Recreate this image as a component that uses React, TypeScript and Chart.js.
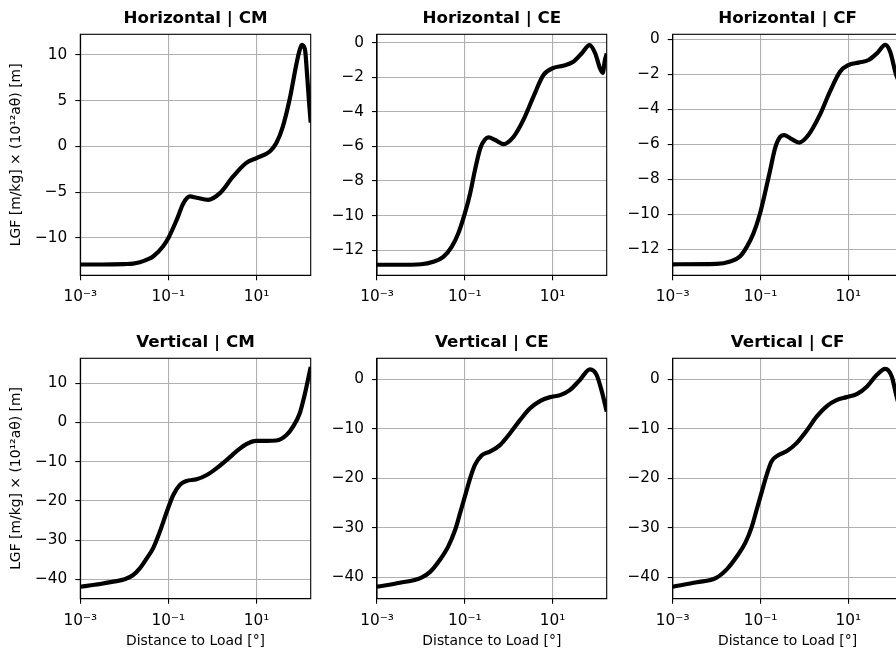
import React, { useEffect, useRef } from 'react';
import { Chart, registerables } from 'chart.js';

Chart.register(...registerables);

// ---------------- data ----------------
const hcmX = [0.001, 0.00316, 0.01, 0.0158, 0.0224, 0.0316, 0.0457, 0.0759, 0.1, 0.155, 0.219, 0.309, 0.437, 0.794, 1.48, 2.95, 5.89, 10, 20, 28.2, 39.8, 56.2, 81.3, 95, 107, 126, 140, 155, 170];
const hcmY = [-12.9, -12.9, -12.85, -12.8, -12.65, -12.4, -12.0, -10.9, -10.0, -8.0, -6.2, -5.46, -5.6, -5.83, -5.1, -3.28, -1.8, -1.27, -0.55, 0.37, 2.2, 5.1, 9.1, 10.5, 11.1, 10.6, 8.0, 5.0, 2.6];

const hceX = [0.001, 0.00316, 0.01, 0.0191, 0.0324, 0.0501, 0.0708, 0.1, 0.132, 0.17, 0.224, 0.288, 0.347, 0.49, 0.759, 1.29, 2.14, 3.63, 6.17, 10.5, 17.4, 29.5, 45.7, 69.2, 93.3, 120, 138, 155, 170];
const hceY = [-12.85, -12.85, -12.82, -12.68, -12.39, -11.81, -11.04, -9.88, -8.72, -7.37, -6.12, -5.6, -5.48, -5.63, -5.87, -5.44, -4.48, -3.13, -1.87, -1.45, -1.33, -1.1, -0.62, -0.14, -0.62, -1.49, -1.74, -1.0, -0.62];

const hcfX = [0.001, 0.01, 0.0204, 0.0339, 0.049, 0.0692, 0.0977, 0.126, 0.166, 0.214, 0.275, 0.347, 0.513, 0.759, 1.23, 2.24, 3.8, 6.46, 10, 17, 28.8, 44.7, 69.2, 89.1, 123, 145, 170];
const hcfY = [-12.86, -12.84, -12.7, -12.42, -11.85, -11.09, -9.94, -8.8, -7.47, -6.23, -5.6, -5.47, -5.71, -5.9, -5.47, -4.32, -2.99, -1.85, -1.47, -1.33, -1.18, -0.8, -0.32, -0.7, -2.04, -2.4, -1.6];

const vcmX = [0.001, 0.00282, 0.00562, 0.0102, 0.0158, 0.0224, 0.0316, 0.0457, 0.0646, 0.0912, 0.129, 0.182, 0.257, 0.437, 0.741, 1.23, 2.09, 3.55, 5.89, 10, 17, 28.2, 47.9, 67.6, 95.5, 126, 170];
const vcmY = [-41.9, -41.2, -40.6, -40.0, -38.9, -37.2, -34.8, -31.9, -27.7, -22.9, -18.5, -15.9, -14.9, -14.5, -13.4, -11.7, -9.6, -7.3, -5.5, -4.7, -4.7, -4.6, -3.2, -1.05, 2.3, 7.4, 14.2];

const vceX = [0.001, 0.00331, 0.01, 0.0162, 0.0269, 0.0417, 0.0603, 0.0776, 0.1, 0.132, 0.17, 0.24, 0.372, 0.631, 1.07, 1.82, 3.02, 5.13, 8.71, 14.8, 24.5, 41.7, 70.8, 100, 132, 170];
const vceY = [-41.9, -41.1, -40.1, -38.9, -36.5, -33.8, -30.4, -27.1, -23.7, -20.0, -17.3, -15.4, -14.6, -13.3, -10.9, -8.2, -5.9, -4.4, -3.6, -3.2, -2.2, -0.13, 2.0, 0.9, -2.5, -6.5];

const vcfX = [0.001, 0.00355, 0.00977, 0.017, 0.0288, 0.0447, 0.0631, 0.0813, 0.107, 0.138, 0.178, 0.257, 0.398, 0.661, 1.12, 1.91, 3.24, 5.37, 9.12, 15.5, 26.3, 44.7, 69.2, 97.7, 123, 145, 170];
const vcfY = [-41.9, -41.0, -40.1, -38.4, -35.8, -33.1, -29.8, -26.4, -22.7, -19.3, -16.6, -15.3, -14.5, -12.9, -10.4, -7.5, -5.4, -4.2, -3.6, -3.0, -1.5, 0.9, 2.1, 0.5, -3.2, -5.5, -7.0];

const titles = ['Horizontal | CM', 'Horizontal | CE', 'Horizontal | CF', 'Vertical | CM', 'Vertical | CE', 'Vertical | CF'];

const xTickValues = [0.001, 0.1, 10];
const xTickLabels = ['10\u207B\u00B3', '10\u207B\u00B9', '10\u00B9'];
const xMin = 0.001;
const xMax = 170;

const yTicksHCM = [-10, -5, 0, 5, 10];
const yTicksHCE = [-12, -10, -8, -6, -4, -2, 0];
const yTicksVCM = [-40, -30, -20, -10, 0, 10];
const yTicksVCE = [-40, -30, -20, -10, 0];

const yLimHCM = [-14.08, 12.26];
const yLimHCE = [-13.46, 0.49];
const yLimHCF = [-13.49, 0.29];
const yLimVCM = [-44.95, 16.38];
const yLimVCE = [-44.32, 4.24];

const xLabel = 'Distance to Load [\u00B0]';
const yLabel = 'LGF [m/kg] \u00D7 (10\u00B9\u00B2a\u03B8) [m]';

// ---------------- layout ----------------
const FONT = "'DejaVu Sans', sans-serif";
const TICK_SIZE = 15.3;
const LABEL_SIZE = 13.9;
const TITLE_SIZE = 16.7;
const colStart = [0, 316, 612];
const plotLeft = [80.3, 377, 672.7];
const plotRight = [310.7, 606.7, 902.4];
const rowTop = [0, 324];
const plotBottom = [275.3, 598.7];
const rowBottom = [320, 653];
const RIGHT_PAD = 12;

const panels = [
  { title: titles[0], xs: hcmX, ys: hcmY, yTicks: yTicksHCM, yLim: yLimHCM, row: 0, col: 0 },
  { title: titles[1], xs: hceX, ys: hceY, yTicks: yTicksHCE, yLim: yLimHCE, row: 0, col: 1 },
  { title: titles[2], xs: hcfX, ys: hcfY, yTicks: yTicksHCE, yLim: yLimHCF, row: 0, col: 2 },
  { title: titles[3], xs: vcmX, ys: vcmY, yTicks: yTicksVCM, yLim: yLimVCM, row: 1, col: 0 },
  { title: titles[4], xs: vceX, ys: vceY, yTicks: yTicksVCE, yLim: yLimVCE, row: 1, col: 1 },
  { title: titles[5], xs: vcfX, ys: vcfY, yTicks: yTicksVCE, yLim: yLimVCE, row: 1, col: 2 },
];

const framePlugin = {
  id: 'frame',
  afterDraw(chart: any) {
    const { ctx, chartArea } = chart;
    const { left, top, right, bottom } = chartArea;
    ctx.save();
    ctx.strokeStyle = '#000';
    ctx.lineWidth = 1.1;
    ctx.strokeRect(left, top, right - left, bottom - top);
    ctx.restore();
  },
};

const fmtY = (v: number) => (v < 0 ? '\u2212' + Math.abs(v) : String(v));

function Panel({ p }: { p: any }) {
  const ref = useRef<HTMLCanvasElement>(null);
  const left = colStart[p.col];
  const width = Math.ceil(plotRight[p.col] + RIGHT_PAD - left);
  const top = rowTop[p.row];
  const height = rowBottom[p.row] - top;
  const yAxisW = plotLeft[p.col] - left;
  const xAxisH = rowBottom[p.row] - plotBottom[p.row];
  const padRight = width - (plotRight[p.col] - left);

  useEffect(() => {
    if (!ref.current) return;
    const grid = { color: '#b0b0b0', lineWidth: 1.1, tickColor: '#000', tickLength: 5, tickWidth: 1.1 };
    const chart = new Chart(ref.current, {
      type: 'line',
      data: {
        datasets: [
          {
            data: p.xs.map((x: number, i: number) => ({ x, y: p.ys[i] })),
            borderColor: '#000',
            borderWidth: 4.2,
            pointRadius: 0,
            fill: false,
            cubicInterpolationMode: 'monotone',
            clip: 0,
          } as any,
        ],
      },
      options: {
        animation: false,
        responsive: false,
        devicePixelRatio: 1,
        events: [],
        layout: { padding: { left: 0, right: padRight, top: 0, bottom: 0 } },
        plugins: {
          legend: { display: false },
          tooltip: { enabled: false },
          title: {
            display: true,
            text: p.title,
            color: '#000',
            font: { family: FONT, size: TITLE_SIZE, weight: 'bold', lineHeight: 1.2 },
            padding: { top: 8.5, bottom: 5.76 },
            fullSize: false,
          },
        },
        scales: {
          x: {
            type: 'logarithmic',
            min: xMin,
            max: xMax,
            afterBuildTicks: (s: any) => {
              s.ticks = xTickValues.map((v) => ({ value: v }));
            },
            afterFit: (s: any) => {
              s.height = xAxisH;
            },
            ticks: {
              callback: (_v: any, i: number) => xTickLabels[i],
              autoSkip: false,
              maxRotation: 0,
              color: '#000',
              font: { family: FONT, size: TICK_SIZE },
              padding: 8,
            },
            grid,
            border: { color: '#000', width: 1.1 },
            title: {
              display: p.row === 1,
              text: xLabel,
              color: '#000',
              font: { family: FONT, size: LABEL_SIZE, lineHeight: 1.2 },
              padding: { top: 0, bottom: 3.7 },
            },
          },
          y: {
            type: 'linear',
            min: p.yLim[0],
            max: p.yLim[1],
            afterBuildTicks: (s: any) => {
              s.ticks = p.yTicks.map((v: number) => ({ value: v }));
            },
            afterFit: (s: any) => {
              s.width = yAxisW;
            },
            ticks: {
              callback: (v: any) => fmtY(Number(v)),
              color: '#000',
              font: { family: FONT, size: TICK_SIZE },
              padding: 8,
            },
            grid,
            border: { color: '#000', width: 1.1 },
            title: {
              display: p.col === 0,
              text: yLabel,
              color: '#000',
              font: { family: FONT, size: LABEL_SIZE, lineHeight: 1.2 },
              padding: { top: 8.4, bottom: 0 },
            },
          },
        },
      } as any,
      plugins: [framePlugin],
    });
    return () => chart.destroy();
  }, []);

  return (
    <div style={{ position: 'absolute', left, top, width, height }}>
      <canvas ref={ref} width={width} height={height} style={{ width, height, display: 'block' }} />
    </div>
  );
}

export default function App() {
  return (
    <div
      style={{
        position: 'fixed',
        left: 0,
        top: 0,
        width: 896,
        height: 653,
        overflow: 'hidden',
        background: '#fff',
      }}
    >
      {panels.map((p, i) => (
        <Panel key={i} p={p} />
      ))}
    </div>
  );
}
